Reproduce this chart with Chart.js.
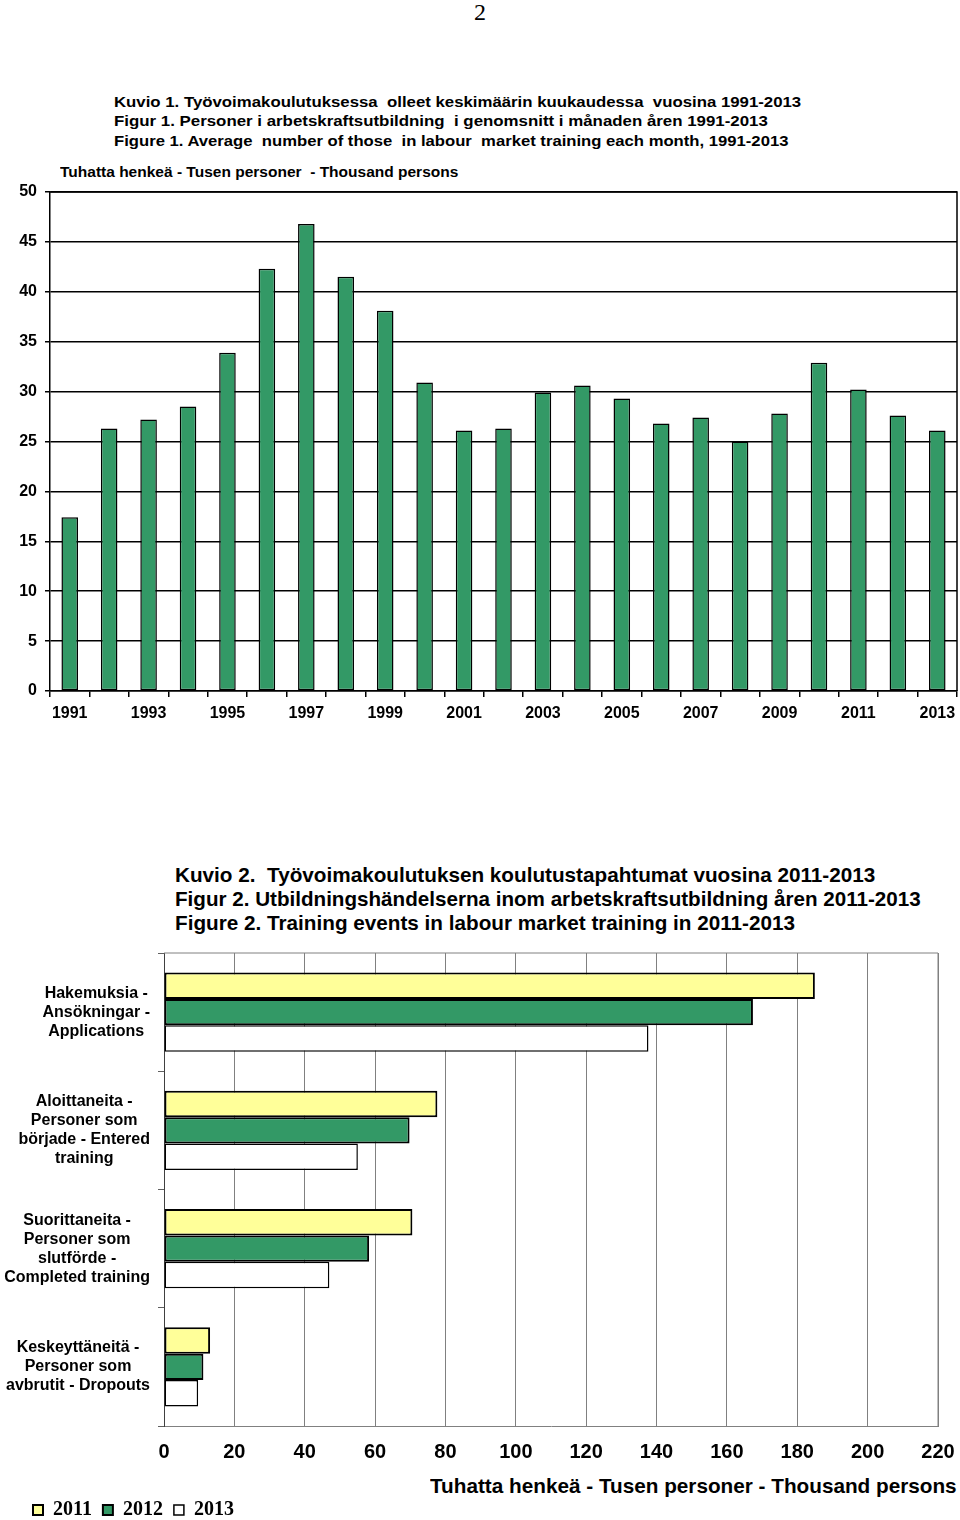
<!DOCTYPE html>
<html><head><meta charset="utf-8">
<script src="https://cdn.jsdelivr.net/npm/chart.js@4.4.1/dist/chart.umd.min.js"></script>
<style>
html,body{margin:0;padding:0;background:#fff;}
body{width:960px;height:1520px;position:relative;overflow:hidden;font-family:'Liberation Sans',Arial,sans-serif;color:#000;}
.t{position:absolute;white-space:nowrap;transform-origin:0 50%;}
canvas{position:absolute;left:0;}
</style></head><body>
<div class="t" style="left:0;width:960px;text-align:center;top:0;font-family:'Liberation Serif',serif;font-size:24px;line-height:24px;">2</div>

<div class="t fit" data-w="687" style="left:114px;top:92px;font-size:15px;line-height:20px;font-weight:bold;">Kuvio 1. Työvoimakoulutuksessa&nbsp; olleet keskimäärin kuukaudessa&nbsp; vuosina 1991-2013</div>
<div class="t fit" data-w="654" style="left:114px;top:111px;font-size:15px;line-height:20px;font-weight:bold;">Figur 1. Personer i arbetskraftsutbildning&nbsp; i genomsnitt i månaden åren 1991-2013</div>
<div class="t fit" data-w="674" style="left:114px;top:131px;font-size:15px;line-height:20px;font-weight:bold;">Figure 1. Average&nbsp; number of those&nbsp; in labour&nbsp; market training each month, 1991-2013</div>
<div class="t fit" data-w="398" style="left:60px;top:162px;font-size:15px;line-height:20px;font-weight:bold;">Tuhatta henkeä - Tusen personer&nbsp; - Thousand persons</div>

<div class="t fit" data-w="700" style="left:175px;top:863px;font-size:21px;line-height:24px;font-weight:bold;">Kuvio 2.&nbsp; Työvoimakoulutuksen koulutustapahtumat vuosina 2011-2013</div>
<div class="t fit" data-w="746" style="left:175px;top:887px;font-size:21px;line-height:24px;font-weight:bold;">Figur 2. Utbildningshändelserna inom arbetskraftsutbildning åren 2011-2013</div>
<div class="t fit" data-w="620" style="left:175px;top:911px;font-size:21px;line-height:24px;font-weight:bold;">Figure 2. Training events in labour market training in 2011-2013</div>
<div class="t fit" data-w="527" style="left:430px;top:1474px;font-size:21px;line-height:24px;font-weight:bold;">Tuhatta henkeä - Tusen personer - Thousand persons</div>

<canvas id="c1" width="960" height="740" style="top:0;"></canvas>
<canvas id="c2" width="960" height="790" style="top:740px;"></canvas>

<script>
// ---------- DATA ----------
const years = ['1991','1992','1993','1994','1995','1996','1997','1998','1999','2000','2001','2002',
  '2003','2004','2005','2006','2007','2008','2009','2010','2011','2012','2013'];
const avgPersons = [17.4, 26.3, 27.2, 28.5, 33.9, 42.3, 46.8, 41.5, 38.1, 30.9, 26.1, 26.3,
  29.9, 30.6, 29.3, 26.8, 27.4, 25.0, 27.8, 32.9, 30.2, 27.6, 26.1];
const yMax1 = 50, yStep1 = 5;

const eventCategories = [
  ['Hakemuksia -', 'Ansökningar -', 'Applications'],
  ['Aloittaneita -', 'Personer som', 'började - Entered', 'training'],
  ['Suorittaneita -', 'Personer som', 'slutförde -', 'Completed training'],
  ['Keskeyttäneitä -', 'Personer som', 'avbrutit - Dropouts']
];
const seriesYears = ['2011', '2012', '2013'];
const events2011 = [185.0, 77.7, 70.6, 13.1];
const events2012 = [167.4, 69.8, 58.3, 11.2];
const events2013 = [137.7, 55.1, 47.0, 9.7];
const xMax2 = 220, xStep2 = 20;

// ---------- helpers ----------
document.querySelectorAll('.fit').forEach(el => {
  const w = parseFloat(el.dataset.w);
  const a = el.offsetWidth;
  if (a > 0) el.style.transform = 'scaleX(' + (w / a) + ')';
});

const SANS = "'Liberation Sans', Arial, sans-serif";
const GREEN = '#339966', YELLOW = '#FFFF99', WHITE = '#FFFFFF';

const framePlugin = {
  id: 'frame',
  afterDatasetsDraw(chart, args, opts) {
    const {ctx, chartArea: a} = chart;
    ctx.save();
    ctx.strokeStyle = opts.color || '#000';
    ctx.lineWidth = opts.width || 1;
    ctx.beginPath();
    ctx.moveTo(a.left, a.top); ctx.lineTo(a.right, a.top); ctx.lineTo(a.right, a.bottom);
    ctx.stroke();
    ctx.restore();
  }
};

const blockLabels = {
  id: 'blockLabels',
  afterDraw(chart, args, opts) {
    if (!opts.enabled) return;
    const {ctx} = chart;
    const ys = chart.scales.y;
    const right = chart.chartArea.left - opts.gap;
    ctx.save();
    ctx.font = opts.font;
    ctx.fillStyle = '#000';
    ctx.textAlign = 'center';
    ctx.textBaseline = 'middle';
    chart.data.labels.forEach((lines, i) => {
      const cy = ys.getPixelForTick(i);
      const maxW = Math.max(...lines.map(l => ctx.measureText(l).width));
      const cx = right - maxW / 2;
      const y0 = cy - (lines.length - 1) * opts.lineHeight / 2;
      lines.forEach((l, j) => ctx.fillText(l, cx, y0 + j * opts.lineHeight));
    });
    ctx.restore();
  }
};

// ---------- Chart 1 ----------
new Chart(document.getElementById('c1'), {
  type: 'bar',
  data: {
    labels: years,
    datasets: [{
      data: avgPersons,
      backgroundColor: GREEN,
      borderColor: '#000',
      borderWidth: 1.5,
      borderSkipped: false,
      barPercentage: 0.42,
      categoryPercentage: 1.0
    }]
  },
  options: {
    responsive: false,
    animation: false,
    devicePixelRatio: 1,
    layout: {padding: {top: 192, right: 0, left: 0, bottom: 0}},
    plugins: {legend: {display: false}, tooltip: {enabled: false}, frame: {color: '#000', width: 1.5}},
    scales: {
      x: {
        grid: {display: true, drawOnChartArea: false, drawTicks: true, tickLength: 6, color: '#000', lineWidth: 1.5, offset: true},
        border: {color: '#000', width: 1.5},
        ticks: {autoSkip: false, maxRotation: 0, color: '#000', padding: 7,
          font: {family: SANS, size: 16, weight: 'bold'},
          callback: (v, i) => (i % 2 === 0 ? years[i] : '')},
        afterFit: s => { s.height = 49; s.paddingRight = 3; s.paddingLeft = 0; }
      },
      y: {
        min: 0, max: yMax1,
        ticks: {stepSize: yStep1, color: '#000', padding: 8, font: {family: SANS, size: 16, weight: 'bold'}},
        grid: {color: '#000', lineWidth: 1.5, tickLength: 5},
        border: {color: '#000', width: 1.5},
        afterFit: s => { s.width = 50; }
      }
    }
  },
  plugins: [framePlugin]
});

// ---------- Chart 2 ----------
new Chart(document.getElementById('c2'), {
  type: 'bar',
  data: {
    labels: eventCategories,
    datasets: [
      {label: seriesYears[0], data: events2011, backgroundColor: YELLOW, borderColor: '#000', borderWidth: 2, borderSkipped: false},
      {label: seriesYears[1], data: events2012, backgroundColor: GREEN, borderColor: '#000', borderWidth: 2, borderSkipped: false},
      {label: seriesYears[2], data: events2013, backgroundColor: WHITE, borderColor: '#000', borderWidth: 1.5, borderSkipped: false}
    ]
  },
  options: {
    indexAxis: 'y',
    responsive: false,
    animation: false,
    devicePixelRatio: 1,
    datasets: {bar: {categoryPercentage: 0.67, barPercentage: 1.0}},
    layout: {padding: {top: 213, right: 0, left: 22, bottom: 0}},
    plugins: {
      tooltip: {enabled: false},
      frame: {color: '#808080', width: 1},
      blockLabels: {enabled: true, font: 'bold 16px ' + SANS, lineHeight: 19, gap: 14},
      legend: {
        position: 'bottom', align: 'start',
        labels: {boxWidth: 10, boxHeight: 10, padding: 11, color: '#000',
          font: {family: "'Liberation Serif', 'Times New Roman', serif", size: 20, weight: 'bold'}}
      }
    },
    scales: {
      x: {
        min: 0, max: xMax2,
        ticks: {stepSize: xStep2, color: '#000', padding: 14, font: {family: SANS, size: 20, weight: 'bold'}},
        grid: {color: '#808080', lineWidth: 1, drawTicks: false},
        border: {color: '#808080', width: 1},
        afterFit: s => { s.height = 63; s.paddingRight = 22; s.paddingLeft = 0; }
      },
      y: {
        ticks: {display: false},
        grid: {drawOnChartArea: false, drawTicks: true, tickLength: 6, color: '#606060', offset: true},
        border: {color: '#404040', width: 1},
        afterFit: s => { s.width = 142; }
      }
    }
  },
  plugins: [framePlugin, blockLabels]
});
</script>
</body></html>
